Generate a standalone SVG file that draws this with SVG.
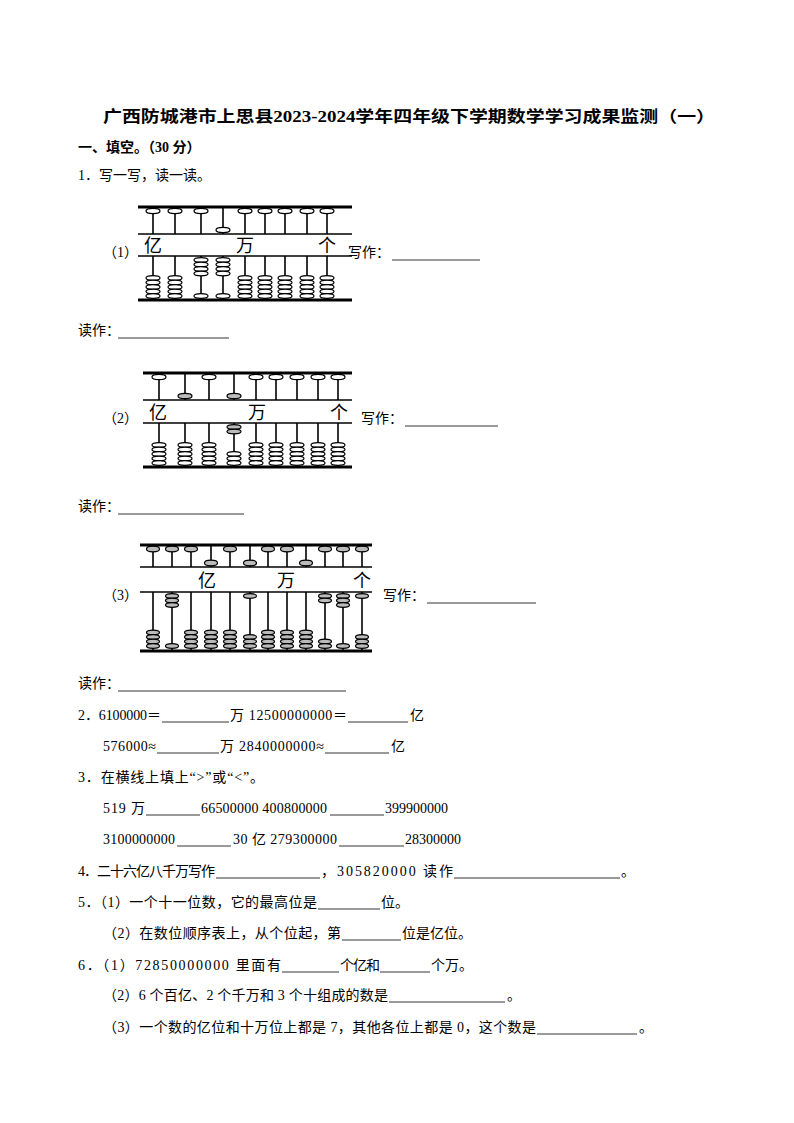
<svg xmlns="http://www.w3.org/2000/svg" xmlns:xlink="http://www.w3.org/1999/xlink" width="794" height="1123" viewBox="0 0 794 1123">
<style>
text{font-family:"Liberation Serif","Noto Sans CJK SC",serif;font-size:14px;fill:#000}
.b{font-weight:bold}
.t{font-size:16px;font-weight:bold}
.u{stroke:#000;stroke-width:0.8}
.bar{stroke:#000;stroke-width:3}
.beam{stroke:#000;stroke-width:1.5}
.rod{stroke:#000;stroke-width:1.6}
.bd{fill:#fff;stroke:#000;stroke-width:1.2}
.gd{fill:#bbb;stroke:#000;stroke-width:1.2}
.lab{font-size:18px;font-family:"Noto Sans CJK SC",sans-serif}
</style>
<rect width="794" height="1123" fill="#fff"/>
<text class="t" x="103" y="122" textLength="612" lengthAdjust="spacingAndGlyphs">广西防城港市上思县2023-2024学年四年级下学期数学学习成果监测（一）</text>
<text class="b" x="78" y="152">一、填空。（30 分）</text>
<text x="78" y="180" textLength="133">1．写一写，读一读。</text>

<g id="abacus1">
<line class="bar" x1="138" y1="207" x2="352" y2="207"/><line class="beam" x1="138" y1="234" x2="352" y2="234"/><line class="beam" x1="138" y1="256" x2="352" y2="256"/><line class="bar" x1="138" y1="300" x2="352" y2="300"/>
<g class="rod">
<line x1="153" y1="207" x2="153" y2="234"/><line x1="175" y1="207" x2="175" y2="234"/><line x1="201" y1="207" x2="201" y2="234"/><line x1="223" y1="207" x2="223" y2="234"/><line x1="245" y1="207" x2="245" y2="234"/><line x1="265" y1="207" x2="265" y2="234"/><line x1="285" y1="207" x2="285" y2="234"/><line x1="307" y1="207" x2="307" y2="234"/><line x1="327" y1="207" x2="327" y2="234"/>
<line x1="153" y1="256" x2="153" y2="300"/><line x1="175" y1="256" x2="175" y2="300"/><line x1="201" y1="256" x2="201" y2="300"/><line x1="223" y1="256" x2="223" y2="300"/><line x1="245" y1="256" x2="245" y2="300"/><line x1="265" y1="256" x2="265" y2="300"/><line x1="285" y1="256" x2="285" y2="300"/><line x1="307" y1="256" x2="307" y2="300"/><line x1="327" y1="256" x2="327" y2="300"/>
</g>
<g class="bd">
<ellipse cx="153" cy="211" rx="7" ry="2.6"/><ellipse cx="175" cy="211" rx="7" ry="2.6"/><ellipse cx="201" cy="211" rx="7" ry="2.6"/><ellipse cx="223" cy="230" rx="7" ry="2.6"/><ellipse cx="245" cy="211" rx="7" ry="2.6"/><ellipse cx="265" cy="211" rx="7" ry="2.6"/><ellipse cx="285" cy="211" rx="7" ry="2.6"/><ellipse cx="307" cy="211" rx="7" ry="2.6"/><ellipse cx="327" cy="211" rx="7" ry="2.6"/>
<ellipse cx="201" cy="260" rx="7" ry="2.3"/><ellipse cx="201" cy="264.5" rx="7" ry="2.3"/><ellipse cx="201" cy="269" rx="7" ry="2.3"/><ellipse cx="201" cy="273.5" rx="7" ry="2.3"/><ellipse cx="201" cy="296" rx="7" ry="2.3"/>
<ellipse cx="223" cy="260" rx="7" ry="2.3"/><ellipse cx="223" cy="264.5" rx="7" ry="2.3"/><ellipse cx="223" cy="269" rx="7" ry="2.3"/><ellipse cx="223" cy="273.5" rx="7" ry="2.3"/><ellipse cx="223" cy="296" rx="7" ry="2.3"/>
</g>
<g class="bd" id="s5a">
<ellipse cx="153" cy="278" rx="7" ry="2.3"/><ellipse cx="153" cy="282.5" rx="7" ry="2.3"/><ellipse cx="153" cy="287" rx="7" ry="2.3"/><ellipse cx="153" cy="291.5" rx="7" ry="2.3"/><ellipse cx="153" cy="296" rx="7" ry="2.3"/>
</g>
<use xlink:href="#s5a" x="22"/><use xlink:href="#s5a" x="92"/><use xlink:href="#s5a" x="112"/><use xlink:href="#s5a" x="132"/><use xlink:href="#s5a" x="154"/><use xlink:href="#s5a" x="174"/>
<rect x="139" y="236" width="212" height="18" fill="#fff"/>
<text class="lab" x="144" y="252">亿</text><text class="lab" x="236" y="252">万</text><text class="lab" x="318" y="252">个</text>
</g>
<text x="103" y="257">（1）</text>
<text x="348" y="257">写作：</text><line class="u" x1="392" y1="260" x2="480" y2="260"/>
<text x="78" y="335">读作：</text><line class="u" x1="118" y1="338" x2="229" y2="338"/>

<g id="abacus2">
<line class="bar" x1="143" y1="373" x2="352" y2="373"/><line class="beam" x1="143" y1="400" x2="352" y2="400"/><line class="beam" x1="143" y1="423" x2="352" y2="423"/><line class="bar" x1="143" y1="467" x2="352" y2="467"/>
<g class="rod">
<line x1="159" y1="373" x2="159" y2="400"/><line x1="185" y1="373" x2="185" y2="400"/><line x1="209" y1="373" x2="209" y2="400"/><line x1="234" y1="373" x2="234" y2="400"/><line x1="256" y1="373" x2="256" y2="400"/><line x1="276" y1="373" x2="276" y2="400"/><line x1="297" y1="373" x2="297" y2="400"/><line x1="318" y1="373" x2="318" y2="400"/><line x1="338" y1="373" x2="338" y2="400"/>
<line x1="159" y1="423" x2="159" y2="467"/><line x1="185" y1="423" x2="185" y2="467"/><line x1="209" y1="423" x2="209" y2="467"/><line x1="234" y1="423" x2="234" y2="467"/><line x1="256" y1="423" x2="256" y2="467"/><line x1="276" y1="423" x2="276" y2="467"/><line x1="297" y1="423" x2="297" y2="467"/><line x1="318" y1="423" x2="318" y2="467"/><line x1="338" y1="423" x2="338" y2="467"/>
</g>
<g class="bd">
<ellipse cx="159" cy="377" rx="7" ry="2.6"/><ellipse cx="209" cy="377" rx="7" ry="2.6"/><ellipse cx="256" cy="377" rx="7" ry="2.6"/><ellipse cx="276" cy="377" rx="7" ry="2.6"/><ellipse cx="297" cy="377" rx="7" ry="2.6"/><ellipse cx="318" cy="377" rx="7" ry="2.6"/><ellipse cx="338" cy="377" rx="7" ry="2.6"/>
<ellipse cx="234" cy="454" rx="7" ry="2.3"/><ellipse cx="234" cy="458.5" rx="7" ry="2.3"/><ellipse cx="234" cy="463" rx="7" ry="2.3"/>
</g>
<g class="gd">
<ellipse cx="185" cy="396" rx="7" ry="2.6"/><ellipse cx="234" cy="396" rx="7" ry="2.6"/>
<ellipse cx="234" cy="427" rx="7" ry="2.3"/><ellipse cx="234" cy="431.5" rx="7" ry="2.3"/>
</g>
<g class="bd" id="s5b">
<ellipse cx="159" cy="445" rx="7" ry="2.3"/><ellipse cx="159" cy="449.5" rx="7" ry="2.3"/><ellipse cx="159" cy="454" rx="7" ry="2.3"/><ellipse cx="159" cy="458.5" rx="7" ry="2.3"/><ellipse cx="159" cy="463" rx="7" ry="2.3"/>
</g>
<use xlink:href="#s5b" x="26"/><use xlink:href="#s5b" x="50"/><use xlink:href="#s5b" x="97"/><use xlink:href="#s5b" x="117"/><use xlink:href="#s5b" x="138"/><use xlink:href="#s5b" x="159"/><use xlink:href="#s5b" x="179"/>
<rect x="144" y="402" width="207" height="19" fill="#fff"/>
<text class="lab" x="149" y="419">亿</text><text class="lab" x="248" y="419">万</text><text class="lab" x="330" y="419">个</text>
</g>
<text x="103" y="423">（2）</text>
<text x="361" y="423">写作：</text><line class="u" x1="405" y1="426" x2="498" y2="426"/>
<text x="78" y="511">读作：</text><line class="u" x1="118" y1="514" x2="244" y2="514"/>

<g id="abacus3">
<line class="bar" x1="140" y1="545" x2="372" y2="545"/><line class="beam" x1="140" y1="567" x2="372" y2="567"/><line class="beam" x1="140" y1="592" x2="372" y2="592"/><line class="bar" x1="140" y1="651" x2="372" y2="651"/>
<g class="rod">
<line x1="153" y1="545" x2="153" y2="567"/><line x1="172" y1="545" x2="172" y2="567"/><line x1="191" y1="545" x2="191" y2="567"/><line x1="211" y1="545" x2="211" y2="567"/><line x1="230" y1="545" x2="230" y2="567"/><line x1="250" y1="545" x2="250" y2="567"/><line x1="268" y1="545" x2="268" y2="567"/><line x1="287" y1="545" x2="287" y2="567"/><line x1="306" y1="545" x2="306" y2="567"/><line x1="325" y1="545" x2="325" y2="567"/><line x1="343" y1="545" x2="343" y2="567"/><line x1="362" y1="545" x2="362" y2="567"/>
<line x1="153" y1="592" x2="153" y2="651"/><line x1="172" y1="592" x2="172" y2="651"/><line x1="191" y1="592" x2="191" y2="651"/><line x1="211" y1="592" x2="211" y2="651"/><line x1="230" y1="592" x2="230" y2="651"/><line x1="250" y1="592" x2="250" y2="651"/><line x1="268" y1="592" x2="268" y2="651"/><line x1="287" y1="592" x2="287" y2="651"/><line x1="306" y1="592" x2="306" y2="651"/><line x1="325" y1="592" x2="325" y2="651"/><line x1="343" y1="592" x2="343" y2="651"/><line x1="362" y1="592" x2="362" y2="651"/>
</g>
<g class="gd">
<ellipse cx="153" cy="549" rx="6.5" ry="2.8"/><ellipse cx="172" cy="549" rx="6.5" ry="2.8"/><ellipse cx="191" cy="549" rx="6.5" ry="2.8"/><ellipse cx="230" cy="549" rx="6.5" ry="2.8"/><ellipse cx="268" cy="549" rx="6.5" ry="2.8"/><ellipse cx="287" cy="549" rx="6.5" ry="2.8"/><ellipse cx="325" cy="549" rx="6.5" ry="2.8"/><ellipse cx="343" cy="549" rx="6.5" ry="2.8"/><ellipse cx="362" cy="549" rx="6.5" ry="2.8"/>
<ellipse cx="211" cy="563" rx="6.5" ry="2.8"/><ellipse cx="250" cy="563" rx="6.5" ry="2.8"/><ellipse cx="306" cy="563" rx="6.5" ry="2.8"/>
<ellipse cx="172" cy="596" rx="6.5" ry="2.3"/><ellipse cx="172" cy="600.5" rx="6.5" ry="2.3"/><ellipse cx="172" cy="605" rx="6.5" ry="2.3"/><ellipse cx="172" cy="646" rx="6.5" ry="2.3"/>
<ellipse cx="250" cy="596" rx="6.5" ry="2.3"/><ellipse cx="250" cy="637" rx="6.5" ry="2.3"/><ellipse cx="250" cy="641.5" rx="6.5" ry="2.3"/><ellipse cx="250" cy="646" rx="6.5" ry="2.3"/>
<ellipse cx="325" cy="596" rx="6.5" ry="2.3"/><ellipse cx="325" cy="600.5" rx="6.5" ry="2.3"/><ellipse cx="325" cy="641.5" rx="6.5" ry="2.3"/><ellipse cx="325" cy="646" rx="6.5" ry="2.3"/>
<ellipse cx="343" cy="596" rx="6.5" ry="2.3"/><ellipse cx="343" cy="600.5" rx="6.5" ry="2.3"/><ellipse cx="343" cy="605" rx="6.5" ry="2.3"/><ellipse cx="343" cy="646" rx="6.5" ry="2.3"/>
<ellipse cx="362" cy="596" rx="6.5" ry="2.3"/><ellipse cx="362" cy="637" rx="6.5" ry="2.3"/><ellipse cx="362" cy="641.5" rx="6.5" ry="2.3"/><ellipse cx="362" cy="646" rx="6.5" ry="2.3"/>
</g>
<g class="gd" id="s4c">
<ellipse cx="153" cy="632.5" rx="6.5" ry="2.3"/><ellipse cx="153" cy="637" rx="6.5" ry="2.3"/><ellipse cx="153" cy="641.5" rx="6.5" ry="2.3"/><ellipse cx="153" cy="646" rx="6.5" ry="2.3"/>
</g>
<use xlink:href="#s4c" x="38"/><use xlink:href="#s4c" x="58"/><use xlink:href="#s4c" x="77"/><use xlink:href="#s4c" x="115"/><use xlink:href="#s4c" x="134"/><use xlink:href="#s4c" x="153"/>
<rect x="141" y="569" width="230" height="21" fill="#fff"/>
<text class="lab" x="198" y="587">亿</text><text class="lab" x="277" y="587">万</text><text class="lab" x="353" y="587">个</text>
</g>
<text x="103" y="600">（3）</text>
<text x="383" y="600">写作：</text><line class="u" x1="427" y1="603" x2="536" y2="603"/>
<text x="78" y="688">读作：</text><line class="u" x1="118" y1="691" x2="346" y2="691"/>

<text x="78" y="720" textLength="83">2．6100000＝</text><line class="u" x1="162" y1="722" x2="229" y2="722"/><text x="230" y="720" textLength="117">万 12500000000＝</text><line class="u" x1="348" y1="722" x2="408" y2="722"/><text x="410" y="720">亿</text>
<text x="103" y="751" textLength="53">576000≈</text><line class="u" x1="157" y1="753" x2="219" y2="753"/><text x="220" y="751" textLength="104">万 2840000000≈</text><line class="u" x1="325" y1="753" x2="389" y2="753"/><text x="391" y="751">亿</text>
<text x="78" y="782" textLength="186">3．在横线上填上“&gt;”或“&lt;”。</text>
<text x="103" y="813" textLength="42">519 万</text><line class="u" x1="146" y1="815" x2="200" y2="815"/><text x="201" y="813" textLength="126">66500000 400800000</text><line class="u" x1="330" y1="815" x2="384" y2="815"/><text x="385" y="813">399900000</text>
<text x="103" y="844" textLength="72">3100000000</text><line class="u" x1="177" y1="846" x2="231" y2="846"/><text x="233" y="844" textLength="104">30 亿 279300000</text><line class="u" x1="339" y1="846" x2="404" y2="846"/><text x="405" y="844">28300000</text>
<text x="78" y="876" textLength="137">4．二十六亿八千万写作</text><line class="u" x1="216" y1="878" x2="320" y2="878"/><text x="321" y="876" textLength="132">，305820000 读作</text><line class="u" x1="454" y1="878" x2="620" y2="878"/><text x="621" y="876">。</text>
<text x="78" y="907" textLength="239">5．（1）一个十一位数，它的最高位是</text><line class="u" x1="318" y1="909" x2="380" y2="909"/><text x="381" y="907">位。</text>
<text x="103" y="938" textLength="238">（2）在数位顺序表上，从个位起，第</text><line class="u" x1="342" y1="940" x2="401" y2="940"/><text x="402" y="938" textLength="70">位是亿位。</text>
<text x="78" y="970" textLength="203">6．（1）72850000000 里面有</text><line class="u" x1="282" y1="972" x2="339" y2="972"/><text x="340" y="970" textLength="40">个亿和</text><line class="u" x1="380" y1="972" x2="430" y2="972"/><text x="431" y="970" textLength="42">个万。</text>
<text x="103" y="1000" textLength="285">（2）6 个百亿、2 个千万和 3 个十组成的数是</text><line class="u" x1="389" y1="1002" x2="505" y2="1002"/><text x="507" y="1000">。</text>
<text x="103" y="1032" textLength="433">（3）一个数的亿位和十万位上都是 7，其他各位上都是 0，这个数是</text><line class="u" x1="537" y1="1034" x2="637" y2="1034"/><text x="639" y="1032">。</text>
</svg>
